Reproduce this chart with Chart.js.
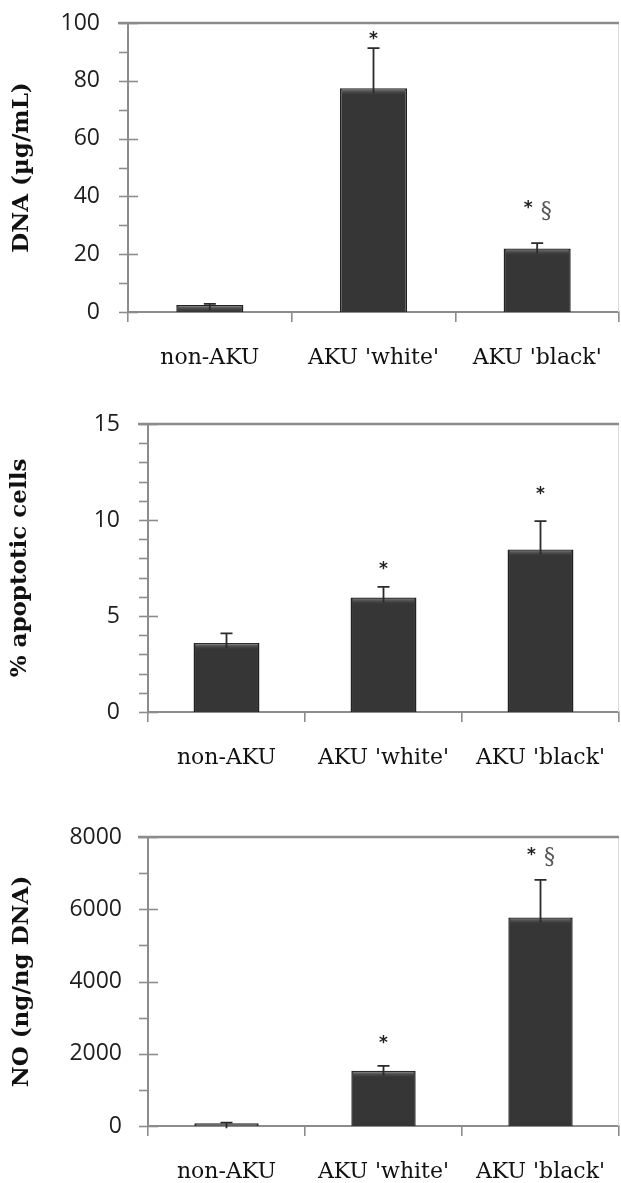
<!DOCTYPE html>
<html>
<head>
<meta charset="utf-8">
<script src="https://cdn.jsdelivr.net/npm/chart.js@4"></script>
<style>
  html, body { margin: 0; padding: 0; background: #fff; }
  body { width: 621px; height: 1183px; position: relative; overflow: hidden; }
  canvas { position: absolute; left: 0; }
</style>
</head>
<body>
<canvas id="dnaChart" width="621" height="390" style="top:0px"></canvas>
<canvas id="apoChart" width="621" height="405" style="top:395px"></canvas>
<canvas id="noChart" width="621" height="383" style="top:800px"></canvas>
<script>
const categories = ["non-AKU", "AKU 'white'", "AKU 'black'"];

// DNA (µg/mL)
const dnaMean = [2.4, 77.4, 22.0];
const dnaErr = [0.4, 13.9, 1.8];
const dnaSig = ['', '*', '* §'];
const dnaSigAt = [null, 95.2, 36];

// % apoptotic cells
const apoMean = [3.6, 5.96, 8.47];
const apoErr = [0.5, 0.56, 1.47];
const apoSig = ['', '*', '*'];
const apoSigAt = [null, 7.56, 11.5];

// NO (ng/ng DNA)
const noMean = [75, 1526, 5775];
const noErr = [20, 140, 1040];
const noSig = ['', '*', '* §'];
const noSigAt = [null, 2354, 7520];

const axisGrey = '#8c8c8c';

// error bars, significance marks, frame and y tick marks
const extras = {
  id: 'extras',
  beforeDatasetsDraw(chart) {
    const { ctx, chartArea: a } = chart;
    ctx.save();
    ctx.strokeStyle = '#dcdcdc';
    ctx.lineWidth = 1;
    ctx.beginPath();
    ctx.moveTo(a.right - 0.5, a.top);
    ctx.lineTo(a.right - 0.5, a.bottom);
    ctx.stroke();
    ctx.strokeStyle = axisGrey;
    ctx.lineWidth = 2.5;
    ctx.beginPath();
    ctx.moveTo(a.left - 10, a.top);
    ctx.lineTo(a.right, a.top);
    ctx.stroke();
    // y ticks: major cross the axis, minor only outside
    const ys = chart.scales.y;
    const major = chart.options.plugins.extras.major;
    ctx.lineWidth = 1.6;
    ys.ticks.forEach(t => {
      const py = Math.round(ys.getPixelForValue(t.value)) + 0.5;
      const isMajor = Math.abs(t.value % major) < 1e-9;
      ctx.beginPath();
      ctx.moveTo(a.left - 9, py);
      ctx.lineTo(isMajor ? a.left + 10 : a.left, py);
      ctx.stroke();
    });
    ctx.restore();
  },
  afterDatasetsDraw(chart) {
    const { ctx } = chart;
    const o = chart.options.plugins.extras;
    const ys = chart.scales.y;
    const meta = chart.getDatasetMeta(0);
    ctx.save();
    meta.data.forEach((bar, i) => {
      const half = bar.width / 2;
      // bevel on the bar top
      const g = ctx.createLinearGradient(0, bar.y, 0, bar.y + 7);
      g.addColorStop(0, 'rgba(150,150,150,0.9)');
      g.addColorStop(1, 'rgba(60,60,60,0)');
      ctx.fillStyle = g;
      ctx.fillRect(bar.x - half + 2, bar.y + 1, bar.width - 4, Math.min(7, bar.base - bar.y - 1));
      // upper error bar
      const top = ys.getPixelForValue(o.mean[i] + o.err[i]);
      ctx.strokeStyle = '#2a2a2a';
      ctx.lineWidth = 1.8;
      ctx.beginPath();
      ctx.moveTo(bar.x, bar.y + 5);
      ctx.lineTo(bar.x, top);
      ctx.moveTo(bar.x - 6, top);
      ctx.lineTo(bar.x + 6, top);
      ctx.stroke();
      // significance marks
      if (o.sig[i]) {
        const py = ys.getPixelForValue(o.sigAt[i]);
        ctx.fillStyle = '#222';
        ctx.textAlign = 'center';
        ctx.textBaseline = 'middle';
        if (o.sig[i] === '*') {
          ctx.font = 'bold 17px "DejaVu Sans"';
          ctx.fillText('*', bar.x, py + 3);
        } else {
          ctx.font = 'bold 17px "DejaVu Sans"';
          ctx.fillText('*', bar.x - 9, py + 1);
          ctx.fillStyle = '#555';
          ctx.font = '22px "DejaVu Serif"';
          ctx.fillText('§', bar.x + 9, py + 3);
        }
      }
    });
    ctx.restore();
  }
};

function makeChart(id, cfg) {
  const barColor = '#363636';
  return new Chart(document.getElementById(id), {
    type: 'bar',
    data: {
      labels: categories,
      datasets: [{
        data: cfg.mean,
        backgroundColor: barColor,
        borderColor: '#222',
        borderWidth: 1.5,
        borderSkipped: 'bottom',
        barPercentage: cfg.barPct,
        categoryPercentage: 1
      }]
    },
    options: {
      responsive: false,
      animation: false,
      layout: { padding: { top: cfg.padTop, right: 2, left: 0, bottom: 0 } },
      plugins: {
        legend: { display: false },
        tooltip: { enabled: false },
        extras: { mean: cfg.mean, err: cfg.err, sig: cfg.sig, sigAt: cfg.sigAt, major: cfg.major }
      },
      scales: {
        x: {
          afterFit(scale) {
            scale.height = cfg.xHeight;
            scale.paddingLeft = 0;
            scale.paddingRight = 0;
          },
          grid: {
            offset: true,
            drawOnChartArea: false,
            tickLength: 10,
            color: axisGrey,
            lineWidth: 1.6
          },
          border: { display: true, color: axisGrey, width: 2 },
          ticks: {
            padding: 23,
            color: '#111',
            font: { family: '"DejaVu Serif"', size: 22 }
          }
        },
        y: {
          min: 0,
          max: cfg.max,
          afterFit(scale) {
            scale.width = cfg.yWidth;
            scale.paddingTop = 10;
            scale.paddingBottom = 10;
          },
          grid: { display: false, drawTicks: false },
          border: { display: true, color: axisGrey, width: 2 },
          ticks: {
            stepSize: cfg.minor,
            autoSkip: false,
            padding: cfg.labelGap,
            color: '#1e1e1e',
            font: { family: '"Open Sans"', size: 23 },
            callback: v => (v % cfg.major === 0 ? v : '')
          },
          title: {
            display: true,
            text: cfg.title,
            color: '#111',
            padding: { top: cfg.titlePad, bottom: 0 },
            font: { family: '"DejaVu Serif"', size: 23, weight: 'bold' }
          }
        }
      }
    },
    plugins: [extras]
  });
}

makeChart('dnaChart', {
  mean: dnaMean, err: dnaErr, sig: dnaSig, sigAt: dnaSigAt,
  max: 100, major: 20, minor: 10, title: 'DNA (µg/mL)',
  padTop: 23, xHeight: 78, yWidth: 128, labelGap: 28, titlePad: 8, barPct: 0.41
});

makeChart('apoChart', {
  mean: apoMean, err: apoErr, sig: apoSig, sigAt: apoSigAt,
  max: 15, major: 5, minor: 1, title: '% apoptotic cells',
  padTop: 29, xHeight: 88, yWidth: 148, labelGap: 28, titlePad: 6, barPct: 0.42
});

makeChart('noChart', {
  mean: noMean, err: noErr, sig: noSig, sigAt: noSigAt,
  max: 8000, major: 2000, minor: 1000, title: 'NO (ng/ng DNA)',
  padTop: 37, xHeight: 57, yWidth: 148, labelGap: 26, titlePad: 8, barPct: 0.41
});
</script>
</body>
</html>
